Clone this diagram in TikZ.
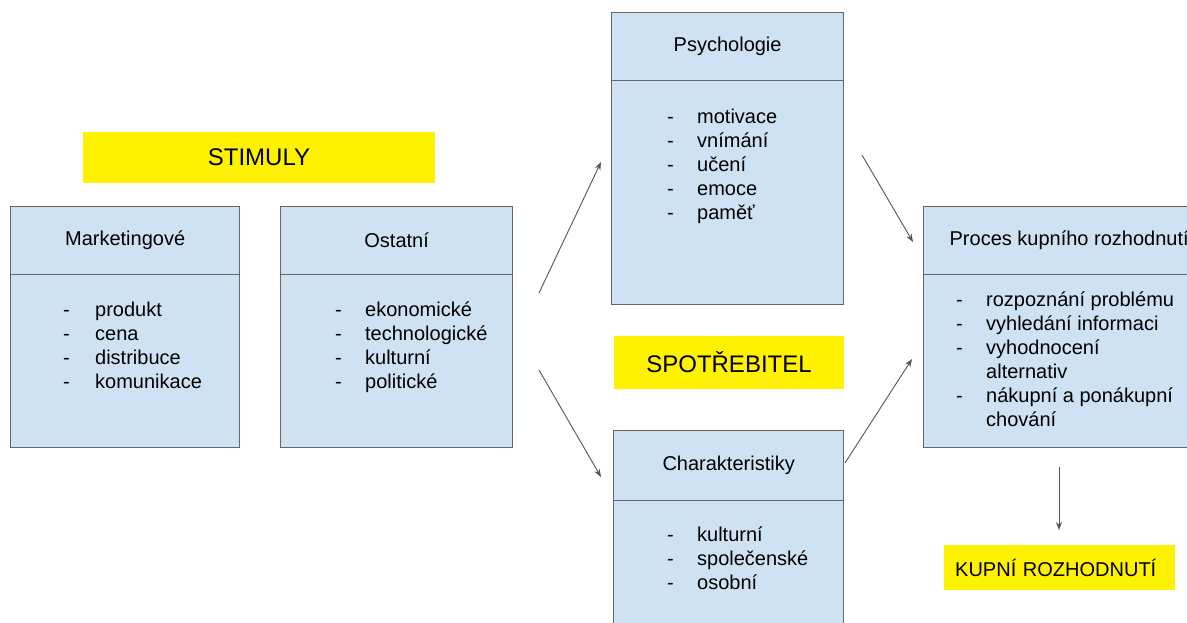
\documentclass[tikz,border=0pt]{standalone}
\usepackage{fontspec}
\setmainfont{Liberation Sans}
\usetikzlibrary{positioning,arrows.meta}
\definecolor{boxblue}{HTML}{CFE2F3}
\definecolor{boxline}{HTML}{666666}
\definecolor{arrowgray}{HTML}{555555}
\tikzset{
  hlava/.style={draw=boxline, line width=1.3pt, fill=boxblue, anchor=north west, minimum height=68pt, inner sep=0pt, font=\fontsize{20}{24}\selectfont},
  telo/.style={draw=boxline, line width=1.3pt, fill=boxblue, inner sep=0pt},
  seznam/.style={anchor=north west, inner sep=0pt, font=\fontsize{20}{24}\selectfont},
  stitek/.style={fill=yellow, inner sep=0pt, font=\fontsize{24}{28}\selectfont},
  sipka/.style={draw=arrowgray, line width=0.9pt, -{Stealth[length=8pt,width=6pt]}}
}

\begin{document}
\begin{tikzpicture}[x=1pt,y=-1pt]
  \useasboundingbox (0,0) rectangle (1187,622);
  \clip (0,0) rectangle (1187,622);

  % stimuly
  \node[stitek, minimum width=352pt, minimum height=51pt] (stimuly) at (259,157.5) {STIMULY};
  \node[hlava, minimum width=229pt] (marketing) at (10,206) {Marketingové};
  \node[telo, minimum width=229pt, minimum height=173pt, below=-1.3pt of marketing] (marketingTelo) {};
  \node[seznam] (marketingSeznam) at ([shift={(53,24)}]marketing.south west) {\begin{tabular}{@{}p{32pt}@{}l@{}}
    - & produkt\\ - & cena\\ - & distribuce\\ - & komunikace\end{tabular}};
  \node[hlava, minimum width=232pt] (ostatni) at (280,206) {Ostatní};
  \node[telo, minimum width=232pt, minimum height=173pt, below=-1.3pt of ostatni] (ostatniTelo) {};
  \node[seznam] (ostatniSeznam) at ([shift={(55,24)}]ostatni.south west) {\begin{tabular}{@{}p{30pt}@{}l@{}}
    - & ekonomické\\ - & technologické\\ - & kulturní\\ - & politické\end{tabular}};

  % spotrebitel
  \node[hlava, minimum width=232pt] (psychologie) at (611,12) {Psychologie};
  \node[telo, minimum width=232pt, minimum height=224pt, below=-1.3pt of psychologie] (psychologieTelo) {};
  \node[seznam] (psychologieSeznam) at ([shift={(56,25)}]psychologie.south west) {\begin{tabular}{@{}p{30pt}@{}l@{}}
    - & motivace\\ - & vnímání\\ - & učení\\ - & emoce\\ - & paměť\end{tabular}};
  \node[stitek, minimum width=230pt, minimum height=53pt] (spotrebitel) at (729,362.5) {SPOTŘEBITEL};
  \node[hlava, minimum width=230pt, minimum height=70pt] (charakteristiky) at (613,430) {Charakteristiky};
  \node[telo, minimum width=230pt, minimum height=150pt, below=-1.3pt of charakteristiky] (charakteristikyTelo) {};
  \node[seznam] (charakteristikySeznam) at ([shift={(54,23)}]charakteristiky.south west) {\begin{tabular}{@{}p{30pt}@{}l@{}}
    - & kulturní\\ - & společenské\\ - & osobní\end{tabular}};

  % rozhodnuti
  \node[hlava, minimum width=291pt] (proces) at (923,206) {Proces kupního rozhodnutí};
  \node[telo, minimum width=291pt, minimum height=173pt, below=-1.3pt of proces] (procesTelo) {};
  \node[seznam] (procesSeznam) at ([shift={(33,14)}]proces.south west) {\begin{tabular}{@{}p{30pt}@{}l@{}}
    - & rozpoznání problému\\ - & vyhledání informaci\\ - & vyhodnocení\\ & alternativ\\
    - & nákupní a ponákupní\\ & chování\end{tabular}};
  \node[stitek, font=\fontsize{20}{24}\selectfont, anchor=north west, text width=209pt, inner xsep=11pt, minimum height=45pt, align=left] (kupni) at (944,545) {KUPNÍ ROZHODNUTÍ};

  % sipky
  \coordinate (s1a) at (539,293);
  \coordinate (s1b) at (601,162);
  \coordinate (s2a) at (539,370);
  \coordinate (s2b) at (601,477);
  \coordinate (s3a) at (862,155);
  \coordinate (s3b) at (913,242);
  \coordinate (s4a) at (845,463);
  \coordinate (s4b) at (912,359);
  \coordinate (s5a) at (1059,467);
  \coordinate (s5b) at (1059,530);
  \draw[sipka] (s1a) -- (s1b);
  \draw[sipka] (s2a) -- (s2b);
  \draw[sipka] (s3a) -- (s3b);
  \draw[sipka] (s4a) -- (s4b);
  \draw[sipka] (s5a) -- (s5b);
\end{tikzpicture}
\end{document}
